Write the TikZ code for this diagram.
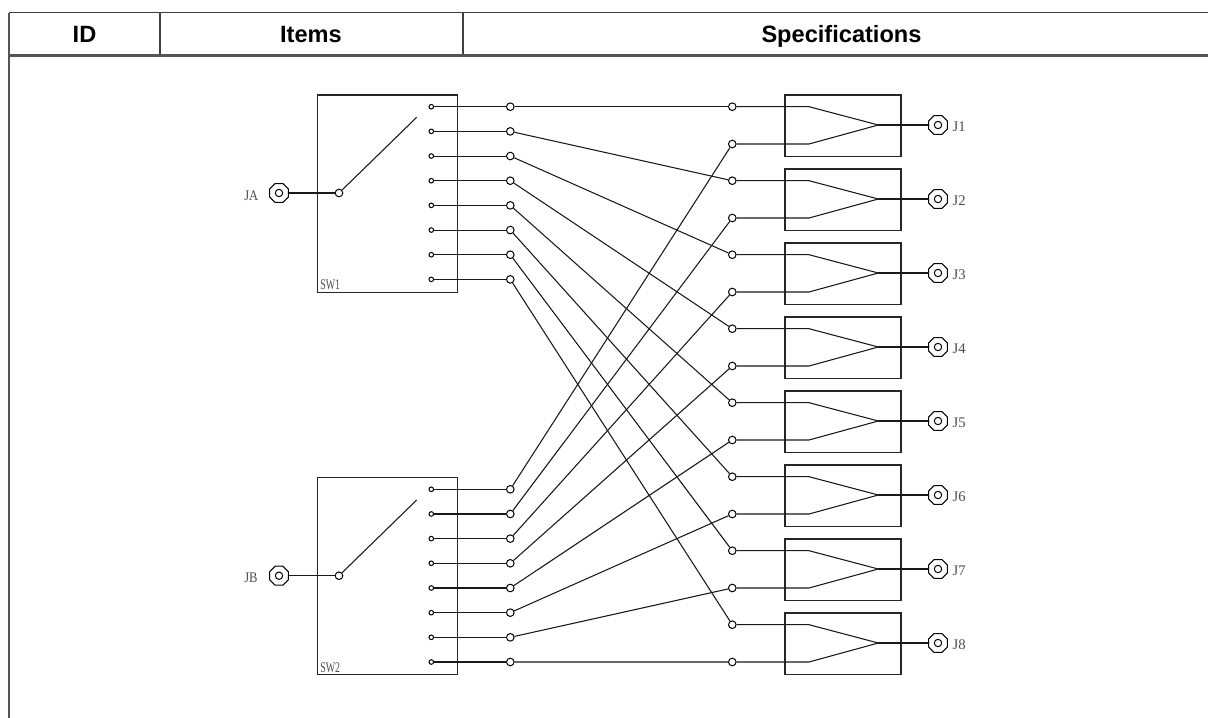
\documentclass[tikz,border=0pt]{standalone}
\usepackage{fontspec}
\usetikzlibrary{shapes.geometric}
\setmainfont{Liberation Sans}
\newfontfamily\lblj{Liberation Serif}
\newfontfamily\lbla[FakeStretch=0.86]{Liberation Serif}
\newfontfamily\lblsw[FakeStretch=0.68]{Liberation Serif}
\definecolor{rulegray}{gray}{0.33}
\definecolor{lblgray}{gray}{0.3}
\tikzset{
  wire/.style={line width=0.8pt,black!90},
  frame/.style={line width=0.9pt,black!85},
  tablerule/.style={line width=1.7pt,rulegray},
  tabletop/.style={line width=1.3pt,black!75},
  tablethin/.style={line width=1pt,black!75},
  port/.style={circle,draw=black,line width=0.75pt,fill=white,inner sep=0pt,minimum size=4.6*0.75pt},
  tap/.style={circle,draw=black,line width=0.75pt,fill=white,inner sep=0pt,minimum size=7.6*0.75pt},
  jack/.style={regular polygon,regular polygon sides=8,draw=black,line width=0.75pt,fill=white,inner sep=0pt,minimum size=20.5*0.75pt},
  jackcore/.style={circle,draw=black,line width=0.75pt,inner sep=0pt,minimum size=7.4*0.75pt},
  lbl/.style={text=lblgray,inner sep=0pt,anchor=base west},
  lbljack/.style={lbl,font=\lblj\fontsize{11pt}{13pt}\selectfont},
  lblin/.style={lbl,font=\lbla\fontsize{11pt}{13pt}\selectfont},
  lblsws/.style={lbl,font=\lblsw\fontsize{11pt}{13pt}\selectfont},
  head/.style={font=\bfseries\fontsize{17.7pt}{20pt}\selectfont,inner sep=0pt,text=black,anchor=base},
}
\begin{document}
\begin{tikzpicture}[x=0.75pt,y=-0.75pt]
\useasboundingbox (0,0) rectangle (1208,718);
% table header
\coordinate (tl) at (8.8,12.5); \coordinate (tr) at (1208,12.5);
\coordinate (ml) at (8.8,55.6); \coordinate (mr) at (1208,55.6);
\coordinate (bl) at (8.8,718);
\coordinate (c1t) at (160,12.5); \coordinate (c1b) at (160,55.6);
\coordinate (c2t) at (463,12.5); \coordinate (c2b) at (463,55.6);
\draw[tabletop] (tl) -- (tr);
\draw[tablethin] (c1t) -- (c1b);
\draw[tablethin] (c2t) -- (c2b);
\draw[tablerule] (ml) -- (mr);
\draw[tablerule] (tl) -- (bl);
\node[head] (hid) at (84.5,42.7) {ID};
\node[head] (hitems) at (311,42.7) {Items};
\node[head] (hspec) at (841.5,42.7) {Specifications};
% switches
\node[frame,draw,minimum width=139.7*0.75pt,minimum height=197.4*0.75pt,inner sep=0pt,anchor=north west] (sw1) at (317,94.3) {};
\node[frame,draw,minimum width=139.7*0.75pt,minimum height=197.4*0.75pt,inner sep=0pt,anchor=north west] (sw2) at (317,476.7) {};
\node[lblsws] (sw1l) at (320,289.3) {SW1};
\node[lblsws] (sw2l) at (320,672) {SW2};
% amp boxes, ports and wires
\foreach \i in {1,...,8}{
  \pgfmathsetmacro{\yy}{94.3+74*(\i-1)}
  \pgfmathsetmacro{\ya}{106.7+24.67*(\i-1)}
  \pgfmathsetmacro{\yb}{489.3+24.67*(\i-1)}
  \pgfmathsetmacro{\yu}{\yy+12.4}
  \pgfmathsetmacro{\yl}{\yy+49.7}
  \pgfmathsetmacro{\ym}{\yy+30.7}
  \pgfmathsetmacro{\yt}{\yy+37.4}
  \node[frame,draw,minimum width=116*0.75pt,minimum height=61.5*0.75pt,inner sep=0pt,anchor=north west] (box\i) at (784.3,\yy) {};
  \coordinate (bu\i) at (809,\yu);
  \coordinate (bl\i) at (809,\yl);
  \coordinate (tip\i) at (878.3,\ym);
  \node[tap] (mu\i) at (732.3,\yu) {};
  \node[tap] (ml\i) at (732.3,\yl) {};
  \node[jack] (j\i) at (938,\ym) {};
  \node[jackcore] (jc\i) at (938,\ym) {};
  \node[lbljack] (jl\i) at (952.3,\yt) {J\i};
  \node[port] (pa\i) at (431.3,\ya) {};
  \node[tap] (ta\i) at (510.3,\ya) {};
  \node[port] (pb\i) at (431.3,\yb) {};
  \node[tap] (tb\i) at (510.3,\yb) {};
  \draw[wire] (pa\i) -- (ta\i);
  \draw[wire] (pb\i) -- (tb\i);
  \draw[wire] (ta\i) -- (mu\i);
  \draw[wire] (tb\i) -- (ml\i);
  \draw[wire] (mu\i) -- (bu\i) -- (tip\i) -- (bl\i) -- (ml\i);
  \draw[wire] (tip\i) -- (j\i);
}
% input jacks and switch arms
\node[jack] (ja) at (279,193) {};
\node[jackcore] (jac) at (279,193) {};
\node[jack] (jb) at (279,575.7) {};
\node[jackcore] (jbc) at (279,575.7) {};
\node[lblin] (jal) at (244,200) {JA};
\node[lblin] (jbl) at (244,582.7) {JB};
\node[tap] (piva) at (339,193) {};
\node[tap] (pivb) at (339,575.7) {};
\coordinate (arma) at (416.7,117.3);
\coordinate (armb) at (416.7,500);
\draw[wire] (ja) -- (piva);
\draw[wire] (jb) -- (pivb);
\draw[wire] (piva) -- (arma);
\draw[wire] (pivb) -- (armb);
\end{tikzpicture}
\end{document}
